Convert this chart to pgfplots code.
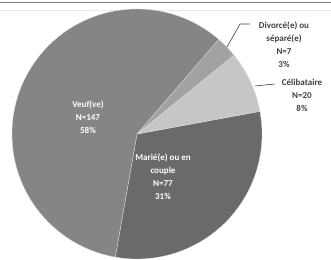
\documentclass[border=0pt]{standalone}
\usepackage{pgfplots}
\pgfplotsset{compat=1.18}
\usepackage{pgfplotstable}
\usepackage{fontspec}
\setmainfont{Carlito}
\definecolor{cMarie}{HTML}{6A6A6A}
\definecolor{cCelib}{HTML}{C6C6C6}
\definecolor{cDiv}{HTML}{A2A2A2}
\definecolor{cVeuf}{HTML}{858585}
\definecolor{txtdark}{HTML}{404040}

\pgfplotstableread{
label count
Marie 77
Celib 20
Divorce 7
Veuf 147
}\piedata

\begin{document}
\begin{tikzpicture}
\pgfplotstablegetelem{0}{count}\of\piedata \let\cA\pgfplotsretval
\pgfplotstablegetelem{1}{count}\of\piedata \let\cB\pgfplotsretval
\pgfplotstablegetelem{2}{count}\of\piedata \let\cC\pgfplotsretval
\pgfplotstablegetelem{3}{count}\of\piedata \let\cD\pgfplotsretval
\pgfmathsetmacro{\tot}{\cA+\cB+\cC+\cD}
\pgfmathsetmacro{\aA}{-100}
\pgfmathsetmacro{\aB}{\aA+360*(\cA/\tot)}
\pgfmathsetmacro{\aC}{\aB+360*(\cB/\tot)}
\pgfmathsetmacro{\aD}{\aC+360*(\cC/\tot)}
\pgfmathsetmacro{\aE}{\aD+360*(\cD/\tot)}
\begin{axis}[name=ax, x=1pt, y=1pt, xmin=0, xmax=331, ymin=0, ymax=259,
  hide axis, clip=true]
% frame lines at top
\addplot[draw=gray, line width=1.2pt] coordinates {(0,256.8) (331,256.8)};
\addplot[draw=black!8, line width=0.8pt] coordinates {(0,249) (331,249)};
% slices
\fill[cMarie, draw=white!75!gray, line width=0.3pt] (axis cs:137,125) -- ++(\aA:125pt) arc[start angle=\aA, end angle=\aB, radius=125pt] -- cycle;
\fill[cCelib, draw=white!75!gray, line width=0.3pt] (axis cs:137,125) -- ++(\aB:125pt) arc[start angle=\aB, end angle=\aC, radius=125pt] -- cycle;
\fill[cDiv, draw=white!75!gray, line width=0.3pt] (axis cs:137,125) -- ++(\aC:125pt) arc[start angle=\aC, end angle=\aD, radius=125pt] -- cycle;
\fill[cVeuf, draw=white!75!gray, line width=0.3pt] (axis cs:137,125) -- ++(\aD:125pt) arc[start angle=\aD, end angle=\aE, radius=125pt] -- cycle;
% leader lines
\draw[txtdark, line width=0.6pt] (axis cs:227,212) -- (axis cs:240,235) -- (axis cs:250,235);
\draw[txtdark, line width=0.6pt] (axis cs:255,173) -- (axis cs:275,175);
% labels
\node[text=white, align=center, font=\fontsize{9}{13}\selectfont\bfseries] at (axis cs:88,141.5) {Veuf(ve)\\N=147\\58\%};
\node[text=white, align=center, font=\fontsize{9}{13}\selectfont\bfseries] at (axis cs:163,82) {Marié(e) ou en\\couple\\N=77\\31\%};
\node[text=txtdark, align=center, font=\fontsize{9}{13}\selectfont\bfseries] at (axis cs:284,214) {Divorcé(e) ou\\séparé(e)\\N=7\\3\%};
\node[text=txtdark, align=center, font=\fontsize{9}{13}\selectfont\bfseries] at (axis cs:302,164) {Célibataire\\N=20\\8\%};
\end{axis}
\pgfresetboundingbox
\path[use as bounding box] (ax.south west) rectangle (ax.north east);
\end{tikzpicture}
\end{document}
